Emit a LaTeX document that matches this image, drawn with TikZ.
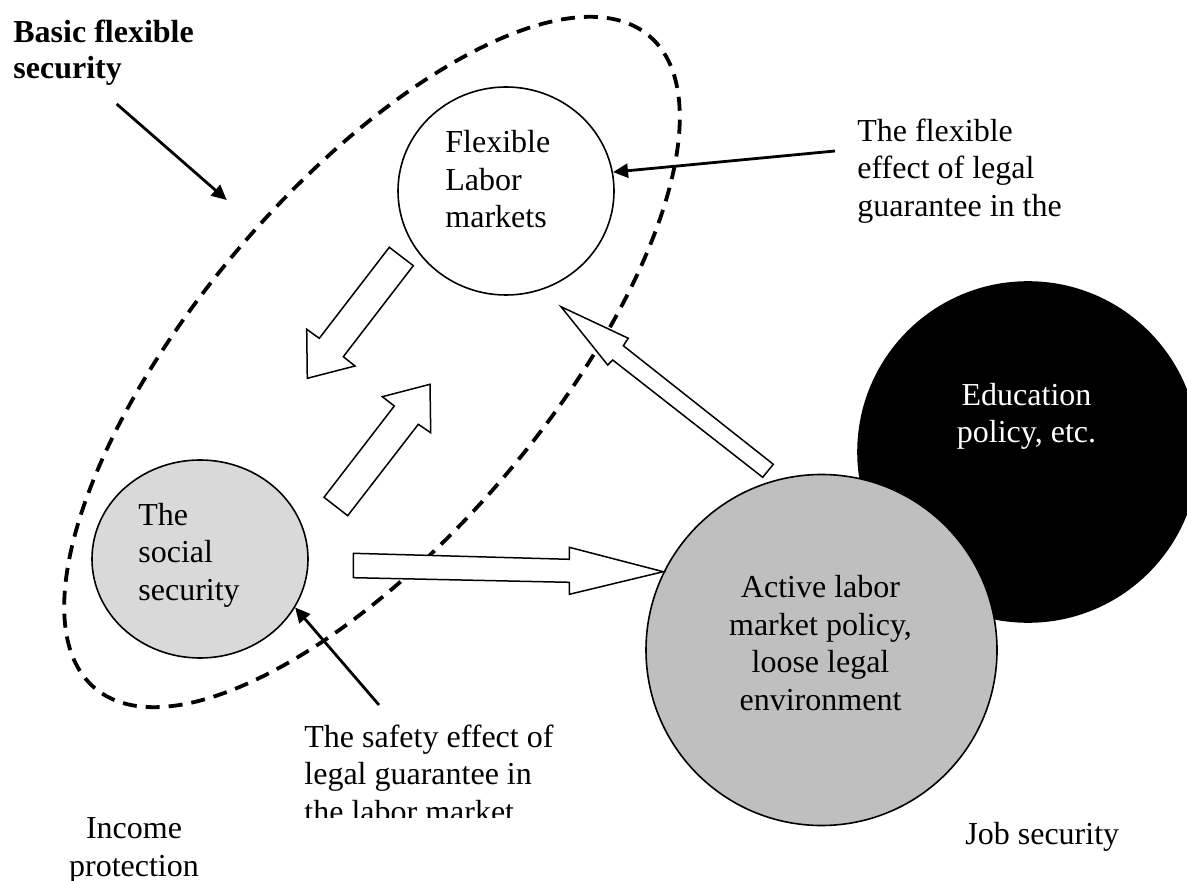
\documentclass[tikz,border=0pt]{standalone}
\usepackage{fontspec}
\setmainfont{Liberation Serif}
\usetikzlibrary{arrows.meta,shapes.geometric}
\begin{document}
\begin{tikzpicture}[x=0.5pt,y=-0.5pt,
  txt/.style={font=\fontsize{16}{18.75}\selectfont, inner sep=0pt, align=left},
  bubble/.style={ellipse, draw, line width=0.8pt, inner sep=0pt},
  blockarrow/.style={draw, fill=white, line width=0.75pt, line join=miter},
  pointer/.style={line width=1.4pt, -{Triangle[length=7.5pt,width=7pt]}},
  dashring/.style={line width=1.9pt, dash pattern=on 7pt off 4.5pt}]
\useasboundingbox (0,0) rectangle (1187,881);

% bubbles
\node[bubble, fill=black, minimum width=170pt, minimum height=170pt] (edu) at (1028,452) {};
\node[bubble, fill=black!25, minimum width=175.5pt, minimum height=175.5pt] (act) at (821.5,650) {};
\node[bubble, fill=black!15, minimum width=108pt, minimum height=99pt] (soc) at (200,559) {};
\node[bubble, fill=white, minimum width=108pt, minimum height=104pt] (flm) at (506,191) {};

% dashed ring: basic flexible security
\begin{scope}[rotate around={49.6:(372,362)}]
  \draw[dashring] (372,362) ellipse [x radius=428, y radius=175];
\end{scope}

% block arrows
\draw[blockarrow] (389.3,247.3) -- (319.3,338.3) -- (306.7,329.3) -- (307.3,378.3)
  -- (355,366) -- (343.3,356.7) -- (413.3,265.7) -- cycle;
\draw[blockarrow] (324,497.3) -- (394.3,406) -- (382.3,396.7) -- (430,384.3)
  -- (430.7,432.7) -- (418.3,424.3) -- (347.7,515.7) -- cycle;
\draw[blockarrow] (773.3,464.3) -- (623.3,345.7) -- (628.3,338.3) -- (561,306.7)
  -- (607.7,365) -- (612.7,360) -- (762.7,477.3) -- cycle;
\draw[blockarrow] (353.3,553.3) -- (569.3,559.3) -- (569.3,547.3) -- (663.3,571.7)
  -- (569.3,594.3) -- (569.3,582.3) -- (353.3,577.7) -- cycle;

% texts (anchored at the baseline of the last line)
\node[txt, anchor=base west] (flmtext) at (445,228) {Flexible\\Labor\\markets};
\node[txt, anchor=base west] (soctext) at (138,600) {The\\social\\security};
\node[txt, anchor=base, align=center] (acttext) at (820.5,710) {Active labor\\market policy,\\loose legal\\environment};
\node[txt, anchor=base, align=center, text=white] (edutext) at (1026.5,443) {Education\\policy, etc.};
\node[txt, anchor=base west, font=\fontsize{16}{18}\selectfont\bfseries] (bfs) at (13,79) {Basic flexible\\security};
\node[txt, anchor=base west] (fe) at (857,216.5) {The flexible\\effect of legal\\guarantee in the};
\begin{scope}
  \clip (280,700) rectangle (700,817);
  \node[txt, anchor=base west] (sf) at (304,822) {The safety effect of\\legal guarantee in\\the labor market};
\end{scope}
\node[txt, anchor=base, align=center] (inc) at (134,876) {Income\\protection};
\node[txt, anchor=base west] (job) at (965,844) {Job security};

% pointers
\coordinate (bfstail) at (116.7,104);
\coordinate (bfstip) at (226.7,200);
\draw[pointer] (bfstail) -- (bfstip);
\coordinate (fetail) at (835,151);
\draw[pointer] (fetail) -- (flm.10);
\coordinate (sftail) at (379,705);
\draw[pointer] (sftail) -- (soc.-27);
\end{tikzpicture}
\end{document}
